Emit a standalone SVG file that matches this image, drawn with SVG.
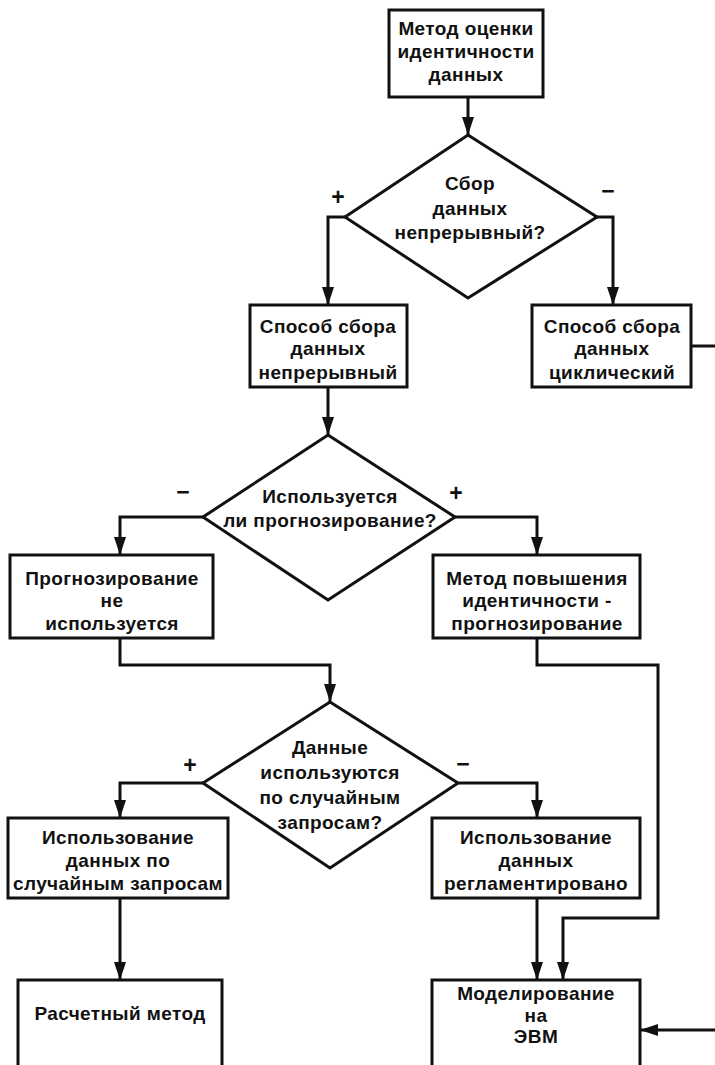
<svg xmlns="http://www.w3.org/2000/svg" width="715" height="1065" viewBox="0 0 715 1065">
<style>
.b{fill:#fff;stroke:#111;stroke-width:3}
.t{font-family:"Liberation Sans",Arial,sans-serif;font-weight:bold;font-size:19px;letter-spacing:0.4px;fill:#111;text-anchor:middle}
.s{font-family:"Liberation Sans",Arial,sans-serif;font-weight:bold;font-size:23px;fill:#111;text-anchor:middle}
.c{fill:none;stroke:#111;stroke-width:3}
</style>
<defs>
<marker id="a" viewBox="0 0 18 12" refX="18" refY="6" markerWidth="18" markerHeight="12" markerUnits="userSpaceOnUse" orient="auto">
<path d="M0,0 L18,6 L0,12 z" fill="#111"/>
</marker>
</defs>
<rect width="715" height="1065" fill="#fff"/>
<g id="connectors">
<path class="c" d="M468,97 V135" marker-end="url(#a)"/>
<path class="c" d="M345,217 H328 V305" marker-end="url(#a)"/>
<path class="c" d="M597,217 H613 V305" marker-end="url(#a)"/>
<path class="c" d="M691,346 H715"/>
<path class="c" d="M328,387 V435" marker-end="url(#a)"/>
<path class="c" d="M203,517 H120 V555" marker-end="url(#a)"/>
<path class="c" d="M455,517 H537 V555" marker-end="url(#a)"/>
<path class="c" d="M120,638 V665 H330 V702" marker-end="url(#a)"/>
<path class="c" d="M537,638 V665 H658 V918 H563 V980" marker-end="url(#a)"/>
<path class="c" d="M203,783 H120 V818" marker-end="url(#a)"/>
<path class="c" d="M458,783 H537 V818" marker-end="url(#a)"/>
<path class="c" d="M120,898 V980" marker-end="url(#a)"/>
<path class="c" d="M537,898 V980" marker-end="url(#a)"/>
<path class="c" d="M715,1030 H640" marker-end="url(#a)"/>
<text class="s" x="338" y="205">+</text>
<text class="s" x="608" y="199">−</text>
<text class="s" x="183" y="500">−</text>
<text class="s" x="456" y="501">+</text>
<text class="s" x="190" y="773">+</text>
<text class="s" x="463" y="772">−</text>
</g>
<g id="n1">
<rect class="b" x="389" y="10" width="154" height="87"/>
<text class="t" x="466" y="35">Метод оценки</text>
<text class="t" x="466" y="58">идентичности</text>
<text class="t" x="466" y="81">данных</text>
</g>
<g id="d1">
<polygon class="b" points="468,135 597,217 468,298 345,217"/>
<text class="t" x="470" y="190">Сбор</text>
<text class="t" x="470" y="215">данных</text>
<text class="t" x="470" y="239">непрерывный?</text>
</g>
<g id="n2">
<rect class="b" x="250" y="305" width="157" height="82"/>
<text class="t" x="328" y="333">Способ сбора</text>
<text class="t" x="328" y="355">данных</text>
<text class="t" x="328" y="379">непрерывный</text>
</g>
<g id="n3">
<rect class="b" x="532" y="305" width="159" height="82"/>
<text class="t" x="612" y="333">Способ сбора</text>
<text class="t" x="612" y="355">данных</text>
<text class="t" x="612" y="379">циклический</text>
</g>
<g id="d2">
<polygon class="b" points="328,435 455,517 328,600 203,517"/>
<text class="t" x="330" y="503">Используется</text>
<text class="t" x="330" y="527">ли прогнозирование?</text>
</g>
<g id="n4">
<rect class="b" x="10" y="555" width="203" height="83"/>
<text class="t" x="112" y="585">Прогнозирование</text>
<text class="t" x="112" y="607">не</text>
<text class="t" x="112" y="630">используется</text>
</g>
<g id="n5">
<rect class="b" x="433" y="555" width="207" height="83"/>
<text class="t" x="537" y="585">Метод повышения</text>
<text class="t" x="537" y="607">идентичности -</text>
<text class="t" x="537" y="630">прогнозирование</text>
</g>
<g id="d3">
<polygon class="b" points="330,702 458,783 330,868 203,783"/>
<text class="t" x="330" y="754">Данные</text>
<text class="t" x="330" y="779">используются</text>
<text class="t" x="330" y="804">по случайным</text>
<text class="t" x="330" y="829">запросам?</text>
</g>
<g id="n6">
<rect class="b" x="8" y="818" width="220" height="80"/>
<text class="t" x="118" y="844">Использование</text>
<text class="t" x="118" y="867">данных по</text>
<text class="t" x="118" y="890">случайным запросам</text>
</g>
<g id="n7">
<rect class="b" x="432" y="818" width="208" height="80"/>
<text class="t" x="536" y="844">Использование</text>
<text class="t" x="536" y="867">данных</text>
<text class="t" x="536" y="890">регламентировано</text>
</g>
<g id="n8">
<rect class="b" x="18" y="980" width="204" height="95"/>
<text class="t" x="120" y="1020">Расчетный метод</text>
</g>
<g id="n9">
<rect class="b" x="432" y="980" width="208" height="95"/>
<text class="t" x="536" y="1000">Моделирование</text>
<text class="t" x="536" y="1022">на</text>
<text class="t" x="536" y="1043">ЭВМ</text>
</g>
</svg>
